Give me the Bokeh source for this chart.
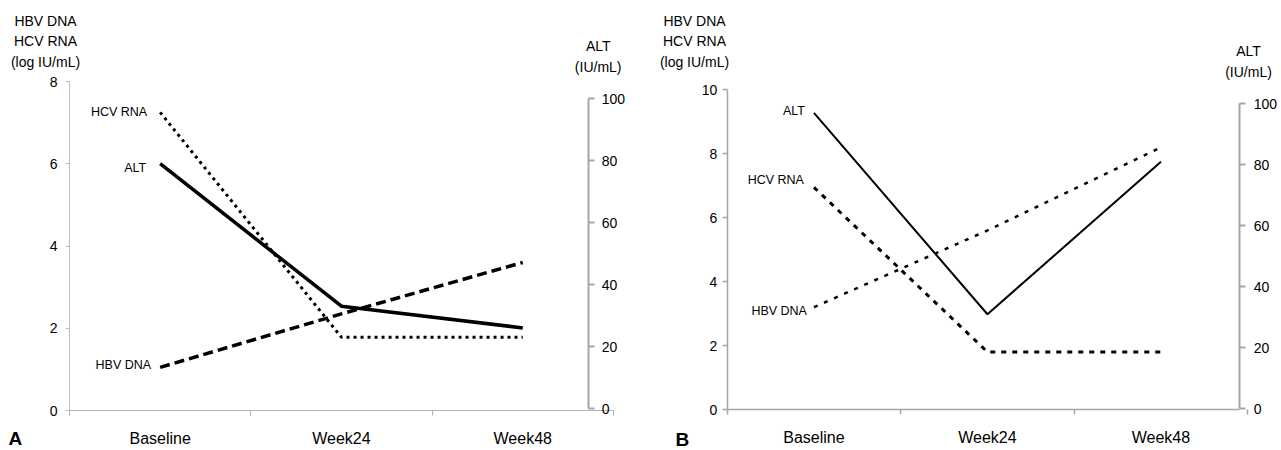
from bokeh.plotting import figure
from bokeh.models import Range1d, LinearAxis, FixedTicker, Label
from bokeh.layouts import row
from bokeh.embed import file_html
from bokeh.resources import INLINE
from bokeh.core.properties import value

# ---------------- data ----------------
categories = ["Baseline", "Week24", "Week48"]
series_names = ["HBV DNA", "HCV RNA", "ALT"]

a_hbv_dna = [1.05, 2.35, 3.6]      # log IU/mL
a_hcv_rna = [7.25, 1.78, 1.78]     # log IU/mL
a_alt = [79, 33, 26]               # IU/mL

b_hbv_dna = [3.2, 5.6, 8.2]
b_hcv_rna = [6.95, 1.8, 1.8]
b_alt = [97, 31, 81]

a_left_ticks = [0, 2, 4, 6, 8]
b_left_ticks = [0, 2, 4, 6, 8, 10]
alt_ticks = [0, 20, 40, 60, 80, 100]

left_title = ["HBV DNA", "HCV RNA", "(log IU/mL)"]
right_title = ["ALT", "(IU/mL)"]
panel_letters = ["A", "B"]

FONT = "Liberation Sans"
H = 450


def x_range_px(x0, step, width):
    return Range1d(-x0 / step, (width - x0) / step)


def y_range_px(vtop, px_top, px_zero):
    ppu = (px_zero - px_top) / vtop
    return Range1d(-(H - px_zero) / ppu, px_zero / ppu)


def make_panel(cfg):
    n = len(categories)
    xs = [i + 0.5 for i in range(n)]
    W = cfg["width"]
    p = figure(width=W, height=H,
               x_range=x_range_px(cfg["x0"], cfg["step"], W),
               y_range=y_range_px(cfg["left_ticks"][-1], cfg["ltop"], cfg["lzero"]),
               output_backend="svg", toolbar_location=None, min_border=0)
    p.xgrid.visible = False
    p.ygrid.visible = False
    p.outline_line_color = None
    p.background_fill_color = "white"
    p.border_fill_color = "white"
    p.extra_y_ranges = {"alt": y_range_px(alt_ticks[-1], cfg["rtop"], cfg["rzero"])}

    right_loc = (cfg["rx"] - cfg["x0"]) / cfg["step"]

    # x axis: labels at category centres, tick marks at category boundaries
    xa = p.xaxis[0]
    xa.fixed_location = 0
    xa.bounds = (0, cfg["xaxis_end"] if cfg["xaxis_end"] is not None else right_loc)
    xa.ticker = FixedTicker(ticks=xs, minor_ticks=list(range(n + 1)))
    xa.major_label_overrides = {x: c for x, c in zip(xs, categories)}
    xa.major_tick_out = 0
    xa.major_tick_in = 0
    xa.minor_tick_out = 5
    xa.minor_tick_in = 0
    xa.minor_tick_line_color = cfg["xcol"]
    xa.axis_line_color = cfg["xcol"]
    xa.axis_line_width = cfg["xw"]
    xa.minor_tick_line_width = cfg["xw"]
    xa.major_label_text_font = FONT
    xa.major_label_text_font_size = "16px"
    xa.major_label_text_color = "black"
    xa.major_label_standoff = 14

    ya = p.yaxis[0]
    ya.fixed_location = 0
    ya.bounds = (cfg["left_ticks"][0], cfg["left_ticks"][-1])
    ya.ticker = FixedTicker(ticks=cfg["left_ticks"])
    ya.major_tick_out = cfg["ltick"]
    ya.major_tick_in = 0
    ya.minor_tick_line_color = None
    ya.axis_line_color = cfg["lcol"]
    ya.major_tick_line_color = cfg["lcol"]
    ya.axis_line_width = cfg["lw"]
    ya.major_tick_line_width = cfg["lw"]
    ya.major_label_text_font = FONT
    ya.major_label_text_font_size = "14px"
    ya.major_label_text_color = "black"
    ya.major_label_standoff = cfg["lstand"]

    ra = LinearAxis(y_range_name="alt", ticker=FixedTicker(ticks=alt_ticks),
                    bounds=(alt_ticks[0], alt_ticks[-1]), fixed_location=right_loc)
    ra.major_tick_out = 6
    ra.major_tick_in = 0
    ra.minor_tick_line_color = None
    ra.axis_line_color = "#a6a6a6"
    ra.major_tick_line_color = "#a6a6a6"
    ra.axis_line_width = 2
    ra.major_tick_line_width = 2
    ra.major_label_text_font = FONT
    ra.major_label_text_font_size = "14px"
    ra.major_label_text_color = "black"
    ra.major_label_standoff = cfg["rstand"]
    p.add_layout(ra, "right")

    st = cfg["styles"]
    p.line(xs, cfg["hbv"], line_color="black", **st["HBV DNA"])
    p.line(xs, cfg["hcv"], line_color="black", **st["HCV RNA"])
    p.line(xs, cfg["alt"], line_color="black", y_range_name="alt", **st["ALT"])

    # series labels next to the baseline point
    vals = {"HBV DNA": cfg["hbv"], "HCV RNA": cfg["hcv"], "ALT": cfg["alt"]}
    for name in series_names:
        kw = {}
        if name == "ALT":
            kw["y_range_name"] = "alt"
        dx, dy = cfg["lab_off"][name]
        p.text(x=[xs[0]], y=[vals[name][0]], text=[name],
               text_align="right", text_baseline="middle",
               text_font=value(FONT), text_font_size="12.5px",
               text_color="black", x_offset=dx, y_offset=dy, **kw)

    # axis titles above the axes (screen px, origin bottom-left of the figure)
    lx, ly = cfg["ltitle"]
    for i, t in enumerate(left_title):
        p.add_layout(Label(x=lx, y=H - (ly + i * 20.8), x_units="screen", y_units="screen",
                           text=t, text_align="center", text_baseline="middle",
                           text_font=FONT, text_font_size="14px", text_color="black"))
    rx, ry = cfg["rtitle"]
    for i, t in enumerate(right_title):
        p.add_layout(Label(x=rx, y=H - (ry + i * 21), x_units="screen", y_units="screen",
                           text=t, text_align="center", text_baseline="middle",
                           text_font=FONT, text_font_size="14px", text_color="black"))
    px_, py_ = cfg["letter"]
    p.add_layout(Label(x=px_, y=H - py_, x_units="screen", y_units="screen",
                       text=cfg["name"], text_align="left", text_baseline="top",
                       text_font=FONT, text_font_size="19px", text_font_style="bold",
                       text_color="black"))
    return p


cfg_a = dict(
    name=panel_letters[0], width=640,
    x0=69, step=181.3, rx=588.3, xaxis_end=3,
    left_ticks=a_left_ticks, ltop=81, lzero=410, rtop=98, rzero=408,
    xcol="#b0b0b0", xw=1, lcol="#c0c0c0", lw=1, ltick=4, lstand=8, rstand=7,
    hbv=a_hbv_dna, hcv=a_hcv_rna, alt=a_alt,
    styles={
        "HBV DNA": dict(line_width=3.5, line_dash="10 5"),
        "HCV RNA": dict(line_width=3, line_dash="3 4"),
        "ALT": dict(line_width=3.5),
    },
    lab_off={"HCV RNA": (-13, 0), "ALT": (-14, 4), "HBV DNA": (-9, -2)},
    ltitle=(45, 20), rtitle=(597.7, 45.7), letter=(8, 427),
)

cfg_b = dict(
    name=panel_letters[1], width=641,
    x0=86.7, step=173.5, rx=599.3, xaxis_end=None,
    left_ticks=b_left_ticks, ltop=89.3, lzero=409, rtop=103.3, rzero=408.3,
    xcol="#a6a6a6", xw=1.5, lcol="#a6a6a6", lw=1.5, ltick=5, lstand=5, rstand=8,
    hbv=b_hbv_dna, hcv=b_hcv_rna, alt=b_alt,
    styles={
        "HBV DNA": dict(line_width=2.5, line_dash="4 7"),
        "HCV RNA": dict(line_width=3, line_dash="5 6"),
        "ALT": dict(line_width=2),
    },
    lab_off={"HCV RNA": (-10, -7), "ALT": (-9, -2), "HBV DNA": (-7, 4)},
    ltitle=(54, 20), rtitle=(608, 50.7), letter=(35, 428),
)

pa = make_panel(cfg_a)
pb = make_panel(cfg_b)
layout = row(pa, pb)

open("out.html", "w").write(file_html(layout, INLINE))
